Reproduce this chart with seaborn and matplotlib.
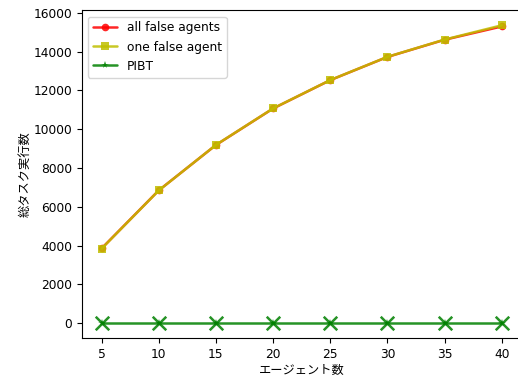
import matplotlib
matplotlib.use("Agg")
import matplotlib.pyplot as plt
import seaborn as sns
import pandas as pd

agents = [5, 10, 15, 20, 25, 30, 35, 40]
all_false = [3860, 6850, 9185, 11065, 12525, 13720, 14605, 15290]
one_false = [3850, 6845, 9190, 11070, 12530, 13725, 14615, 15350]
pibt = [0, 0, 0, 0, 0, 0, 0, 0]

xlabel = "エージェント数"
ylabel = "総タスク実行数"

sns.set_style("ticks")
plt.rcParams['font.family'] = ['DejaVu Sans', 'Noto Sans CJK JP']
for k in ['text.color', 'axes.labelcolor', 'xtick.color', 'ytick.color', 'axes.edgecolor']:
    plt.rcParams[k] = 'black'

fs = 8.8
fig = plt.figure(figsize=(5.18, 3.8), dpi=100)
ax = fig.add_axes([0.1577, 0.110, 0.8494, 0.8626])

df = pd.DataFrame({"x": agents, "all": all_false, "one": one_false, "pibt": pibt})

sns.lineplot(data=df, x="x", y="all", ax=ax, color="r", marker="o", markersize=5.5,
             markeredgewidth=0, linewidth=1.8, alpha=0.85, label="all false agents")
sns.lineplot(data=df, x="x", y="one", ax=ax, color="y", marker="s", markersize=5.5,
             markeredgewidth=0, linewidth=1.8, alpha=0.85, label="one false agent")
sns.lineplot(data=df, x="x", y="pibt", ax=ax, color="g", marker="*", markersize=5.5,
             markeredgewidth=0, linewidth=1.8, alpha=0.85, label="PIBT")
sns.scatterplot(data=df, x="x", y="pibt", ax=ax, color="g", marker="x", s=95,
                linewidth=1.8, alpha=0.85, legend=False, zorder=3)

ax.set_xticks(agents)
ax.set_xlabel(xlabel, family=['Noto Sans CJK JP'], fontsize=fs, labelpad=2.5)
ax.set_ylabel(ylabel, family=['Noto Sans CJK JP'], fontsize=fs, labelpad=1.5)
ax.tick_params(labelsize=fs, length=3.5, width=0.8)
for s in ax.spines.values():
    s.set_visible(True)
    s.set_linewidth(0.8)
ax.legend(loc="upper left", fontsize=fs)

fig.savefig("out.png", dpi=100)
